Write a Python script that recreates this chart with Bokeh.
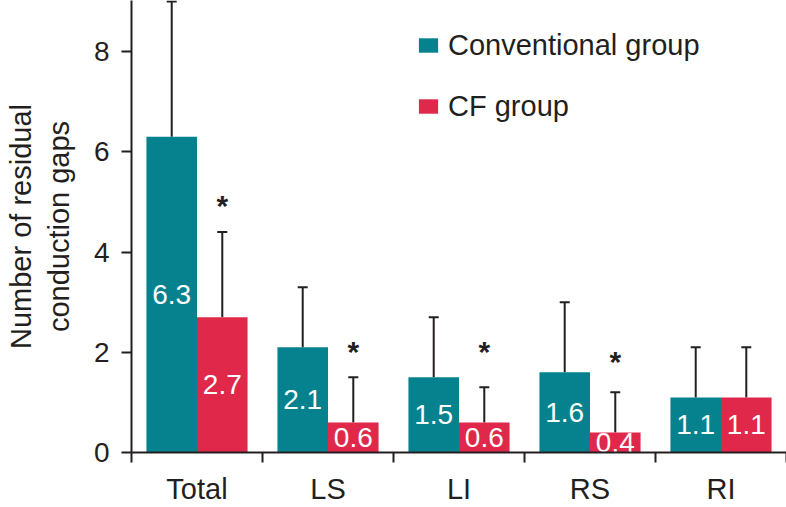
from bokeh.plotting import figure
from bokeh.models import (ColumnDataSource, Range1d, FixedTicker, Whisker, TeeHead,
                          Legend, LegendItem)
from bokeh.transform import dodge
from bokeh.core.properties import value
from bokeh.embed import file_html
from bokeh.resources import INLINE

# ---- data ----
cats = ["Total", "LS", "LI", "RS", "RI"]
conv_mean = [6.3, 2.1, 1.5, 1.6, 1.1]
conv_sd = [2.7, 1.2, 1.2, 1.4, 1.0]
cf_mean = [2.7, 0.6, 0.6, 0.4, 1.1]
cf_sd = [1.7, 0.9, 0.7, 0.8, 1.0]
star_cats = [0, 1, 2, 3]
star_y = [5.0, 2.1, 2.1, 1.9]
y_ticks = [0, 2, 4, 6, 8]

TEAL = "#06828e"
RED = "#e0284a"
INK = "#231f20"
FONT = "Liberation Sans"

idx = list(range(len(cats)))
conv_src = ColumnDataSource(dict(
    idx=idx, val=conv_mean, upper=[m + s for m, s in zip(conv_mean, conv_sd)],
    mid=[m / 2 for m in conv_mean], lab=[f"{m:.1f}" for m in conv_mean]))
cf_src = ColumnDataSource(dict(
    idx=idx, val=cf_mean, upper=[m + s for m, s in zip(cf_mean, cf_sd)],
    mid=[m / 2 for m in cf_mean], lab=[f"{m:.1f}" for m in cf_mean]))
star_src = ColumnDataSource(dict(idx=star_cats, y=star_y, t=["*"] * len(star_cats)))

OFF_A = 0.5 - 0.193
OFF_B = 0.5 + 0.193
BW = 0.386

p = figure(width=786, height=507, x_range=Range1d(0, len(cats)), y_range=Range1d(0, 9.02),
           output_backend="svg", toolbar_location=None,
           min_border_left=131, min_border_right=0, min_border_top=0, min_border_bottom=55)
p.outline_line_color = None
p.grid.visible = False
p.background_fill_color = "white"

r_conv = p.vbar(x=dodge("idx", OFF_A), top="val", width=BW, source=conv_src,
                fill_color=TEAL, line_color=None)
r_cf = p.vbar(x=dodge("idx", OFF_B), top="val", width=BW, source=cf_src,
              fill_color=RED, line_color=None)

for src, off in ((conv_src, OFF_A), (cf_src, OFF_B)):
    w = Whisker(base=dodge("idx", off), upper="upper", lower="val", source=src,
                dimension="height", line_color=INK, line_width=2,
                upper_head=TeeHead(size=10, line_color=INK, line_width=2), lower_head=None)
    p.add_layout(w)

for src, off in ((conv_src, OFF_A), (cf_src, OFF_B)):
    p.text(x=dodge("idx", off), y="mid", text="lab", source=src, text_color="white",
           text_font=value(FONT), text_font_size="28px", text_align="center",
           text_baseline="middle")

p.text(x=dodge("idx", OFF_B), y="y", text="t", source=star_src, text_color=INK,
       text_font=value(FONT), text_font_size="30px", text_font_style="bold",
       text_align="center", text_baseline="middle", y_offset=4)

# y axis
ya = p.yaxis[0]
ya.ticker = FixedTicker(ticks=y_ticks, minor_ticks=[])
ya.axis_line_color = INK
ya.axis_line_width = 2
ya.major_tick_line_color = INK
ya.major_tick_line_width = 2
ya.major_tick_out = 10
ya.major_tick_in = 0
ya.minor_tick_line_color = None
ya.major_label_text_font = FONT
ya.major_label_text_font_size = "28px"
ya.major_label_text_color = INK
ya.major_label_standoff = 12
ya.axis_label = "Number of residual\nconduction gaps"
ya.axis_label_text_font = FONT
ya.axis_label_text_font_size = "29px"
ya.axis_label_text_font_style = "normal"
ya.axis_label_text_color = INK
ya.axis_label_standoff = 16

# x axis
xa = p.xaxis[0]
xa.ticker = FixedTicker(ticks=[i + 0.5 for i in idx], minor_ticks=list(range(len(cats) + 1)))
xa.major_label_overrides = {i + 0.5: c for i, c in zip(idx, cats)}
xa.axis_line_color = INK
xa.axis_line_width = 2
xa.major_tick_line_color = None
xa.major_tick_out = 0
xa.major_tick_in = 0
xa.minor_tick_line_color = INK
xa.minor_tick_line_width = 2
xa.minor_tick_out = 10
xa.minor_tick_in = 0
xa.major_label_text_font = FONT
xa.major_label_text_font_size = "29px"
xa.major_label_text_color = INK
xa.major_label_standoff = 10

legend = Legend(items=[LegendItem(label="Conventional group", renderers=[r_conv]),
                       LegendItem(label="CF group", renderers=[r_cf])],
                location=(285, 328), padding=0, margin=0, spacing=25,
                glyph_width=24, glyph_height=18, label_height=36, label_standoff=8,
                label_text_font=FONT, label_text_font_size="29px", label_text_color=INK,
                border_line_color=None, background_fill_alpha=0)
p.add_layout(legend)

open("out.html", "w").write(file_html(p, INLINE))
